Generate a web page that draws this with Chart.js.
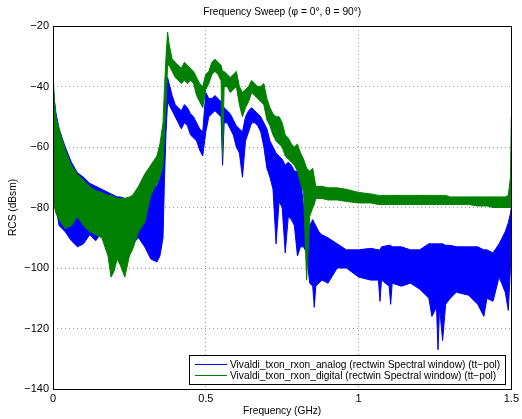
<!DOCTYPE html>
<html>
<head>
<meta charset="utf-8">
<script src="https://cdn.jsdelivr.net/npm/chart.js@4/dist/chart.umd.min.js"></script>
<style>
  html, body { margin: 0; padding: 0; background: #fff; }
  #wrap { width: 522px; height: 419px; }
</style>
</head>
<body>
<div id="wrap"><canvas id="rcsChart" width="522" height="419"></canvas></div>
<script>
const freqGHz = [
  0, 0.005, 0.01, 0.02, 0.04, 0.06, 0.08, 0.10, 0.12, 0.14, 0.16, 0.18, 0.19, 0.20, 0.21, 0.22, 0.235, 0.25, 0.26, 0.28,
  0.30, 0.32, 0.34, 0.35, 0.36, 0.365, 0.37, 0.375, 0.38, 0.39, 0.40, 0.41, 0.42, 0.43, 0.44, 0.45, 0.46, 0.47, 0.48, 0.49,
  0.50, 0.51, 0.52, 0.53, 0.54, 0.55, 0.555, 0.56, 0.57, 0.58, 0.59, 0.60, 0.61, 0.62, 0.63, 0.64, 0.65, 0.66, 0.67, 0.68,
  0.69, 0.70, 0.71, 0.72, 0.73, 0.74, 0.75, 0.76, 0.77, 0.78, 0.79, 0.80, 0.81, 0.82, 0.83, 0.84, 0.85, 0.855, 0.86, 0.87,
  0.88, 0.90, 0.93, 0.96, 1.00, 1.04, 1.065, 1.07, 1.075, 1.10, 1.105, 1.11, 1.14, 1.17, 1.20, 1.23, 1.24, 1.255, 1.26, 1.265,
  1.275, 1.285, 1.30, 1.32, 1.36, 1.39, 1.41, 1.42, 1.44, 1.46, 1.48, 1.49, 1.497, 1.5
];

// digital (green) upper / lower edge of the trace, dBsm
const digitalUpper = [
  -35, -45, -50, -54, -61, -66, -69, -71, -73, -74.5, -75, -76, -76, -76.5, -77, -77, -77, -76.5, -76, -73,
  -69, -66, -63, -59, -52, -40, -30, -22, -26, -31, -32, -33, -34, -32, -33, -34, -35, -37, -39, -40,
  -36, -35, -32, -31, -32, -33, -35, -35, -36, -37, -36, -35, -40, -42, -41, -40, -38, -39, -40, -40,
  -39, -44, -47, -49, -50, -50, -52, -56, -57, -59, -60, -59, -62, -64, -67, -68, -67, -70, -73, -73,
  -73, -73.5, -73.5, -74, -75, -75.5, -76, -76, -76, -76, -76, -76, -76, -76, -76, -76, -76, -76, -76, -76,
  -76, -76, -76.5, -76.5, -76.5, -76.5, -76.5, -76.5, -76.5, -76.5, -76.5, -76, -70, -50
];
const digitalLower = [
  -78, -80, -82, -84, -87, -86, -83, -86, -88, -89, -90, -96, -103, -101, -97, -99, -103, -96, -94, -88,
  -85, -76, -72, -70, -66, -55, -45, -33, -33, -35, -37, -38, -39, -38, -39, -38, -39, -43, -45, -47,
  -41, -39, -36, -35, -36, -38, -63, -40, -40, -42, -41, -40, -46, -50, -47, -45, -42, -43, -44, -45,
  -46, -51, -53, -56, -58, -59, -60, -63, -64, -65, -66, -68, -72, -75, -104, -83, -80, -79, -77, -77,
  -77, -77.5, -77.5, -78, -78.5, -78.5, -79, -79, -79, -79, -79, -79, -79, -79, -79, -79, -79, -79, -79, -79,
  -79, -79, -79, -79, -79, -79.5, -79.5, -79.5, -80, -80, -80, -80, -80, -80
];

// analog (blue) upper / lower edge of the trace, dBsm
const analogUpper = [
  -40, -45, -49, -54, -60, -65, -68.5, -70, -72, -73, -74, -75, -75.5, -76, -76.5, -76.5, -77, -77, -77, -76,
  -73, -72, -73, -70, -62, -52, -43, -37, -39, -43, -46, -47, -48, -46, -47, -49, -50, -52, -54, -55,
  -42, -44, -44, -43, -44, -45, -48, -47, -48, -49, -51, -53, -54, -55, -50, -48, -47, -48, -49, -50,
  -52, -54, -58, -60, -62, -63, -64, -66, -65, -66, -68, -68, -70, -80, -85, -86, -84, -85, -86, -88,
  -89, -90, -92, -94, -94, -93.5, -94, -94, -93, -92.5, -92.5, -93, -93, -94, -94, -92, -92, -92, -92, -92,
  -92, -92.5, -92.5, -93, -93, -93, -94, -94, -95, -92, -88, -85, -82, -80
];
const analogLower = [
  -78, -80, -80, -86, -88, -91, -93, -92, -89, -91, -88, -95, -98, -97, -96, -97, -96, -93, -92, -90,
  -93, -97, -98, -96, -90, -70, -55, -45, -46, -48, -50, -52, -54, -52, -53, -56, -57, -58, -61, -63,
  -55, -50, -49, -48, -49, -50, -66, -52, -52, -54, -56, -60, -62, -70, -58, -55, -52, -52, -53, -55,
  -60, -67, -70, -74, -92, -78, -80, -95, -83, -84, -86, -96, -93, -93, -95, -105, -106, -113, -106, -105,
  -104, -105, -100, -100, -103, -104, -104, -111, -104, -106, -112, -105, -106, -105, -107, -110, -116, -113, -127, -113,
  -124, -112, -110, -108, -109, -112, -116, -110, -111, -103, -108, -114, -100, -85
];

const xTicks = [0, 0.5, 1, 1.5];
const yTicks = [-140, -120, -100, -80, -60, -40, -20];

const seriesNames = [
  "Vivaldi_txon_rxon_analog (rectwin Spectral window) (tt\u2212pol)",
  "Vivaldi_txon_rxon_digital (rectwin Spectral window) (tt\u2212pol)"
];
const seriesColors = ["#0000ff", "#008000"];

const FONT = "'Liberation Sans', Arial, sans-serif";
const TEXT_SIZE = 10.2;

function toPoints(ys) {
  return freqGHz.map((f, i) => ({ x: f, y: ys[i] }));
}

function bandLine(data, color, fill, order) {
  return {
    data: toPoints(data),
    borderColor: color,
    backgroundColor: color,
    borderWidth: 1,
    pointRadius: 0,
    tension: 0,
    fill: fill,
    order: order
  };
}

// box round the plot area, title and legend drawn like the matlab figure
const matlabFrame = {
  id: "matlabFrame",
  afterDraw(chart) {
    const ctx = chart.ctx;
    const a = chart.chartArea;
    ctx.save();
    ctx.strokeStyle = "#000";
    ctx.lineWidth = 1;
    ctx.strokeRect(Math.round(a.left) + 0.5, Math.round(a.top) + 0.5,
      Math.round(a.right - a.left), Math.round(a.bottom - a.top));

    ctx.fillStyle = "#000";
    ctx.font = TEXT_SIZE + "px " + FONT;
    ctx.textAlign = "center";
    ctx.textBaseline = "middle";
    ctx.fillText("Frequency Sweep (\u03c6 = 0\u00b0, \u03b8 = 90\u00b0)", (a.left + a.right) / 2, 12);

    // legend box, bottom right inside the axes
    const textW = Math.max(...seriesNames.map(s => ctx.measureText(s).width));
    const boxW = Math.round(textW + 46);
    const boxH = 29;
    const bx = Math.round(a.right - 6 - boxW);
    const by = Math.round(a.bottom - 5 - boxH);
    ctx.fillStyle = "#fff";
    ctx.fillRect(bx, by, boxW, boxH);
    ctx.strokeRect(bx + 0.5, by + 0.5, boxW, boxH);
    ctx.textAlign = "left";
    seriesNames.forEach((name, i) => {
      const ly = by + 9 + i * 11;
      ctx.strokeStyle = seriesColors[i];
      ctx.beginPath();
      ctx.moveTo(bx + 6, ly + 0.5);
      ctx.lineTo(bx + 38, ly + 0.5);
      ctx.stroke();
      ctx.fillStyle = "#000";
      ctx.fillText(name, bx + 41, ly + 1);
    });
    ctx.restore();
  }
};

const ctx = document.getElementById("rcsChart").getContext("2d");
const rcsChart = new Chart(ctx, {
  type: "line",
  data: {
    datasets: [
      bandLine(analogUpper, seriesColors[0], false, 1),
      bandLine(analogLower, seriesColors[0], "-1", 1),
      bandLine(digitalUpper, seriesColors[1], false, 0),
      bandLine(digitalLower, seriesColors[1], "-1", 0)
    ]
  },
  options: {
    responsive: false,
    animation: false,
    devicePixelRatio: 1,
    layout: { padding: { top: 26, right: 8, left: 0, bottom: 0 } },
    plugins: {
      legend: { display: false },
      title: { display: false },
      tooltip: { enabled: false }
    },
    scales: {
      x: {
        type: "linear",
        min: 0,
        max: 1.5,
        afterBuildTicks: (scale) => { scale.ticks = xTicks.map(v => ({ value: v })); },
        afterFit: (scale) => { scale.height = 30; },
        ticks: {
          color: "#000",
          font: { family: FONT, size: 11 },
          padding: 3,
          maxRotation: 0,
          callback: (v) => String(v)
        },
        grid: { color: "#9a9a9a", drawTicks: false },
        border: { display: false, dash: [1, 3] },
        title: {
          display: true,
          text: "Frequency (GHz)",
          color: "#000",
          font: { family: FONT, size: TEXT_SIZE },
          padding: { top: 2, bottom: 2 }
        }
      },
      y: {
        type: "linear",
        min: -140,
        max: -20,
        afterBuildTicks: (scale) => { scale.ticks = yTicks.map(v => ({ value: v })); },
        afterFit: (scale) => { scale.width = 53; },
        ticks: {
          color: "#000",
          font: { family: FONT, size: 11 },
          padding: 4,
          callback: (v) => String(v).replace("-", "\u2212")
        },
        grid: { color: "#9a9a9a", drawTicks: false },
        border: { display: false, dash: [1, 3] },
        title: {
          display: true,
          text: "RCS (dBsm)",
          color: "#000",
          font: { family: FONT, size: TEXT_SIZE },
          padding: { top: 7, bottom: 2 }
        }
      }
    }
  },
  plugins: [matlabFrame]
});
</script>
</body>
</html>
